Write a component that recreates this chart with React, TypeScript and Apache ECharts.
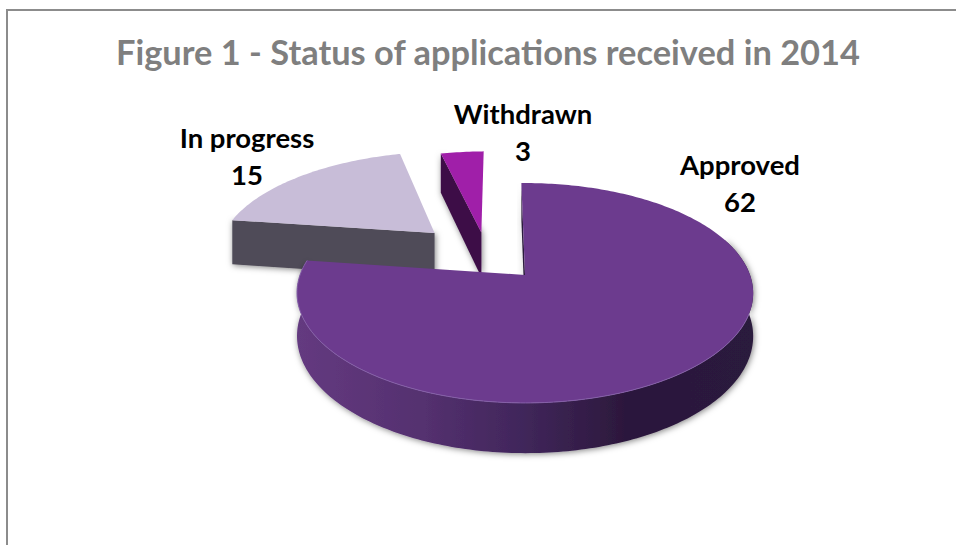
import React, { useEffect, useRef } from "react";
import * as echarts from "echarts";

const titleText = "Figure 1 - Status of applications received in 2014";
const categories = ["Approved", "In progress", "Withdrawn"];
const values = [62, 15, 3];

const W = 956, H = 545;
const CX = 523, CY = 275, RX = 225, RY = 107, K = 0.1636;
const START_DEG = -1;
const FONT = "Lato, Carlito, 'Open Sans', sans-serif";

const sliceStyles = [
  { du: 0.009, dv: 0, depth: 42, top: "#6c3b8e", radial: "#2c1a3c", z: 30, lx: 740, ly: 146 },
  { du: -0.42, dv: -0.42, depth: 48, top: "#c8bdd8", radial: "#504c58", z: 10, lx: 247, ly: 119 },
  { du: -0.198, dv: -0.425, depth: 48, top: "#a01fa9", radial: "#3d1046", z: 20, lx: 523, ly: 95 },
];

const project = (u: number, v: number) => {
  const w = 1 - K * v;
  return { x: CX + (RX * u) / w, y: CY + (RY * v) / w, w };
};

const renderItem = (params: any, api: any) => {
  const i = params.dataIndex;
  const total = values.reduce((a, b) => a + b, 0);
  const before = values.slice(0, i).reduce((a, b) => a + b, 0);
  const a0 = START_DEG + (before / total) * 360;
  const a1 = a0 + (api.value(0) / total) * 360;
  const s = sliceStyles[i];
  const rim = (deg: number) => {
    const t = (deg * Math.PI) / 180;
    return project(s.du + Math.sin(t), s.dv - Math.cos(t));
  };
  const drop = (p: { x: number; y: number; w: number }, d: number): number[] => [p.x, p.y + d / p.w];
  const apex = project(s.du, s.dv);
  const top: number[][] = [[apex.x, apex.y]];
  for (let d = a0; d <= a1 + 1e-6; d += 1) {
    const p = rim(d);
    top.push([p.x, p.y]);
  }
  const pe = rim(a1);
  top.push([pe.x, pe.y]);

  const shadow = { shadowBlur: 6, shadowColor: "rgba(0,0,0,0.5)", shadowOffsetX: 1, shadowOffsetY: 1 };
  const children: any[] = [];

  // radial face
  const radialEnd = rim(a0);
  children.push({
    type: "polygon",
    z2: s.z,
    shape: {
      points: [[radialEnd.x, radialEnd.y], [apex.x, apex.y], drop(apex, s.depth), drop(radialEnd, s.depth)],
    },
    style: { fill: s.radial, ...shadow },
  });

  // outer rim of the big slice
  if (i === 0) {
    const upper: number[][] = [];
    const lower: number[][] = [];
    for (let d = 70; d <= a1; d += 1) {
      const p = rim(d);
      upper.push([p.x, p.y]);
      lower.unshift(drop(p, s.depth));
    }
    children.push({
      type: "polygon",
      z2: s.z + 1,
      shape: { points: upper.concat(lower) },
      style: {
        fill: {
          type: "linear", x: 0, y: 0, x2: 1, y2: 0,
          colorStops: [
            { offset: 0, color: "#643a80" },
            { offset: 0.28, color: "#54306f" },
            { offset: 0.5, color: "#40265a" },
            { offset: 0.72, color: "#2c183c" },
            { offset: 1, color: "#2c1a3c" },
          ],
        },
        ...shadow,
      },
    });
  }

  children.push({
    type: "polygon",
    z2: s.z + 2,
    shape: { points: top },
    style: { fill: s.top },
  });

  if (i === 0) {
    const lip: number[][] = [];
    for (let d = 110; d <= a1; d += 1) {
      const p = rim(d);
      lip.push([p.x, p.y]);
    }
    children.push({
      type: "polyline",
      z2: s.z + 3,
      shape: { points: lip },
      style: { fill: "none", stroke: "#8560a8", lineWidth: 1 },
    });
  }

  children.push({
    type: "text",
    z2: 50,
    x: s.lx,
    y: s.ly,
    style: {
      text: `${categories[i]}\n${api.value(0)}`,
      fontFamily: FONT,
      fontWeight: "bold",
      fontSize: 27.5,
      lineHeight: 37,
      fill: "#000000",
      align: "center",
      verticalAlign: "top",
    },
  });

  return { type: "group", children };
};

export default function App() {
  const ref = useRef<HTMLDivElement>(null);
  useEffect(() => {
    const chart = echarts.init(ref.current!, undefined, { renderer: "svg", width: W, height: H });
    chart.setOption({
      animation: false,
      backgroundColor: "#ffffff",
      title: {
        text: titleText,
        left: 483,
        top: 26,
        textAlign: "center",
        textStyle: { fontFamily: FONT, fontWeight: "bold", fontSize: 34.4, color: "#7f7f7f", lineHeight: 40 },
      },
      graphic: [
        {
          type: "polyline",
          shape: { points: [[7, H], [7, 10], [W, 10]] },
          style: { fill: "none", stroke: "#8c8c8c", lineWidth: 2 },
        },
      ],
      series: [
        {
          type: "custom",
          coordinateSystem: "none",
          renderItem,
          data: values.map((v) => [v]),
          encode: { value: 0 },
          silent: true,
        },
      ],
    });
    return () => chart.dispose();
  }, []);
  return <div ref={ref} style={{ position: "fixed", left: 0, top: 0, width: W, height: H }} />;
}
